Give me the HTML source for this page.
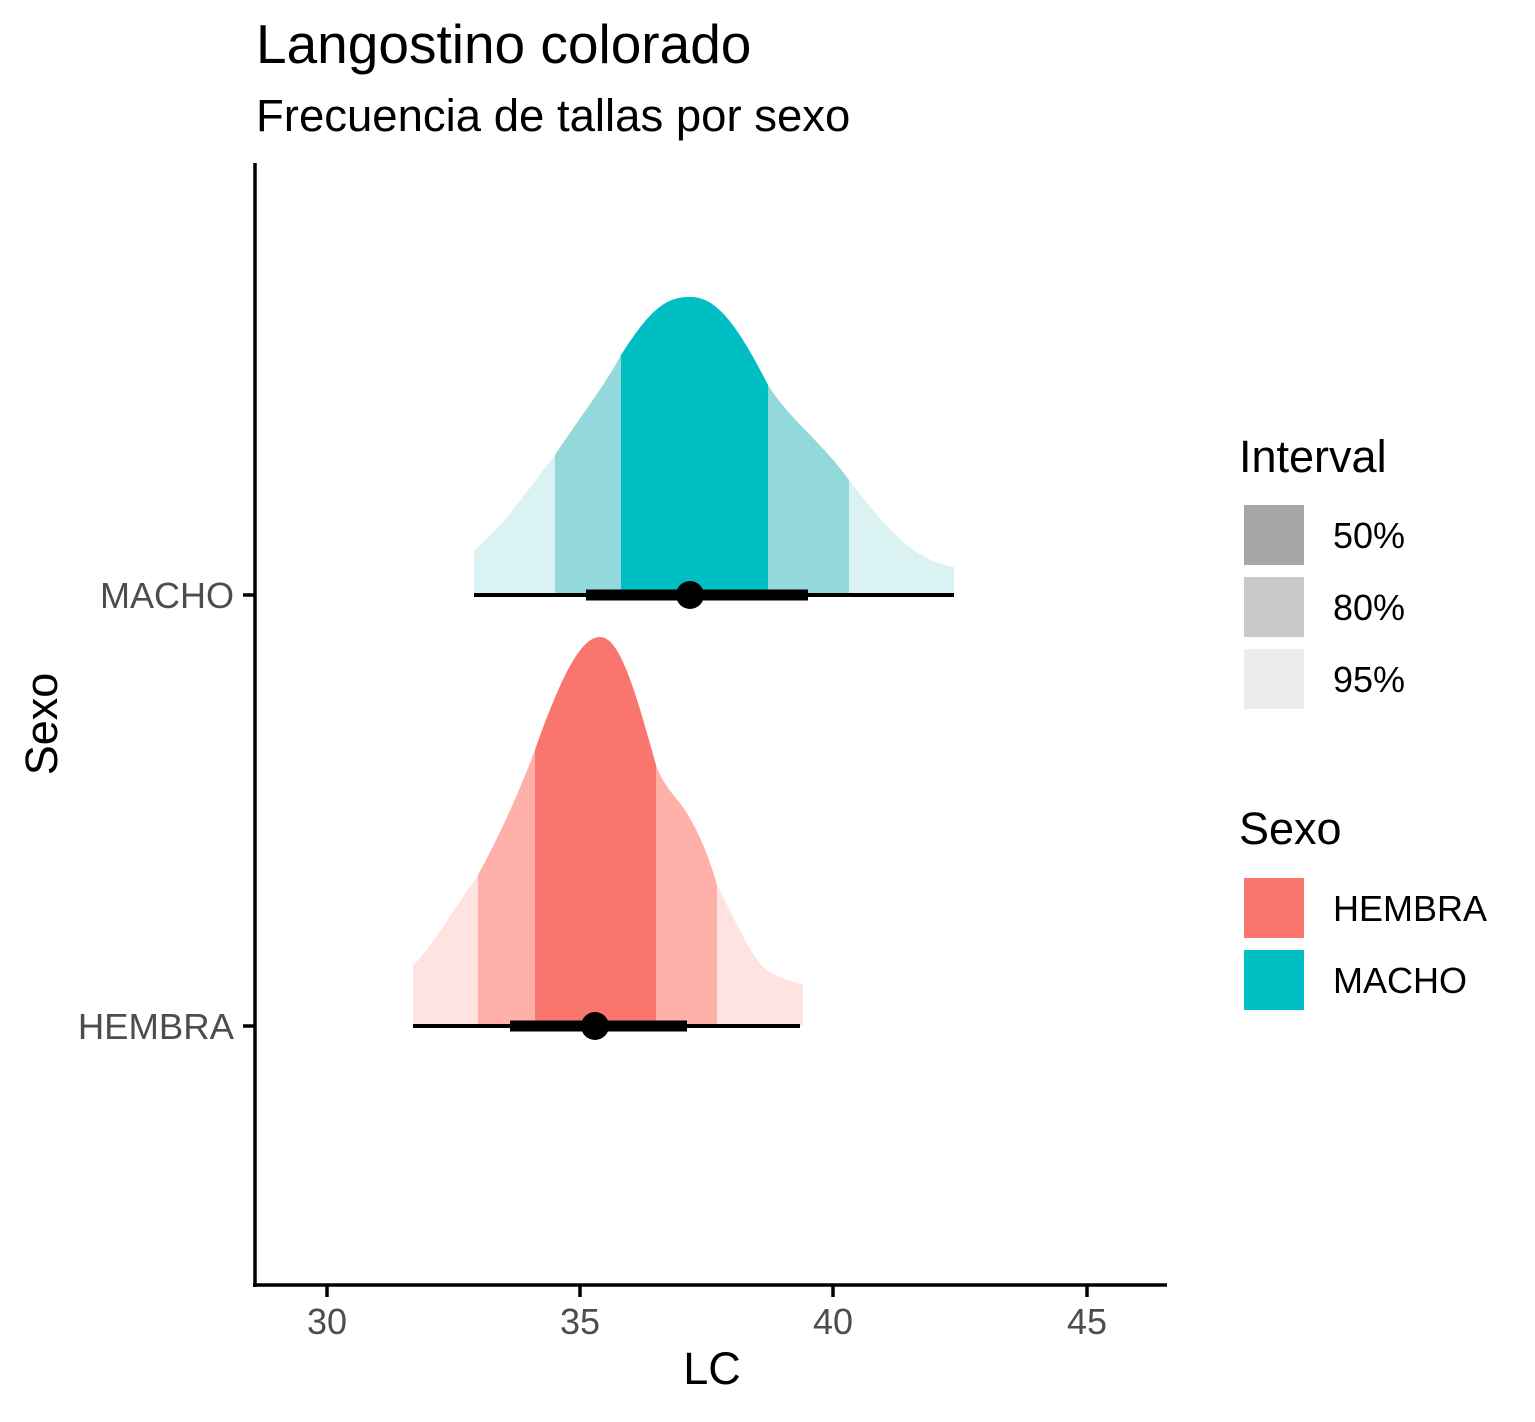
<!DOCTYPE html>
<html><head><style>body{margin:0;background:#fff}</style></head><body>
<svg width="1535" height="1417" xmlns="http://www.w3.org/2000/svg" font-family="Liberation Sans, sans-serif">
<defs>
<path id="m" d="M474,595 L474,550 C500,530 520,500 555,455 C585,410 605,385 621,355 C650,310 665,297 690,297 C715,297 735,320 768,385 C790,420 820,440 849,480 C880,520 910,560 954,567 L954,595 Z"/>
<path id="h" d="M413,1026 L413,965 C430,950 450,915 478,875 C500,835 520,790 535,750 C560,680 580,637 600,637 C620,637 635,690 656,765 C665,790 680,800 688,815 C700,835 710,860 717,885 C740,930 755,965 770,972 C785,980 795,982 803,985 L803,1026 Z"/>
<clipPath id="cm"><use href="#m"/></clipPath>
<clipPath id="ch"><use href="#h"/></clipPath>
</defs>
<text x="256" y="63" font-size="55">Langostino colorado</text>
<text x="256" y="131" font-size="45.5">Frecuencia de tallas por sexo</text>
<g clip-path="url(#cm)">
<rect x="470" y="280" width="490" height="320" fill="#daf2f2"/>
<rect x="555" y="280" width="294" height="320" fill="#93d9db"/>
<rect x="621" y="280" width="147" height="320" fill="#00bfc4"/>
</g>
<g clip-path="url(#ch)">
<rect x="410" y="620" width="400" height="410" fill="#ffe3e0"/>
<rect x="478" y="620" width="239" height="410" fill="#ffb0a8"/>
<rect x="535" y="620" width="121" height="410" fill="#f8766d"/>
</g>
<line x1="474" y1="595" x2="954" y2="595" stroke="#000" stroke-width="4"/>
<line x1="586" y1="595" x2="808" y2="595" stroke="#000" stroke-width="11"/>
<circle cx="690" cy="595" r="14"/>
<line x1="413" y1="1026" x2="800" y2="1026" stroke="#000" stroke-width="4"/>
<line x1="510" y1="1026" x2="687" y2="1026" stroke="#000" stroke-width="11"/>
<circle cx="595" cy="1026" r="14"/>
<line x1="255" y1="163" x2="255" y2="1287" stroke="#000" stroke-width="3.5"/>
<line x1="253" y1="1285" x2="1167" y2="1285" stroke="#000" stroke-width="3.5"/>
<g stroke="#000" stroke-width="3.5">
<line x1="243" y1="595" x2="255" y2="595"/><line x1="243" y1="1026" x2="255" y2="1026"/>
<line x1="327" y1="1285" x2="327" y2="1297"/><line x1="580" y1="1285" x2="580" y2="1297"/>
<line x1="833" y1="1285" x2="833" y2="1297"/><line x1="1087" y1="1285" x2="1087" y2="1297"/>
</g>
<g font-size="36" fill="#4d4d4d" text-anchor="end">
<text x="234" y="608">MACHO</text><text x="234" y="1039" font-size="36.5">HEMBRA</text>
</g>
<g font-size="36" fill="#4d4d4d" text-anchor="middle">
<text x="327" y="1334">30</text><text x="580" y="1334">35</text><text x="833" y="1334">40</text><text x="1087" y="1334">45</text>
</g>
<text x="712" y="1384" font-size="45" text-anchor="middle">LC</text>
<text transform="translate(57,724) rotate(-90)" font-size="45" text-anchor="middle">Sexo</text>
<text x="1239" y="472" font-size="45">Interval</text>
<rect x="1244" y="505" width="60" height="60" fill="#a6a6a6"/>
<rect x="1244" y="577" width="60" height="60" fill="#c9c9c9"/>
<rect x="1244" y="649" width="60" height="60" fill="#ececec"/>
<g font-size="36"><text x="1333" y="548">50%</text><text x="1333" y="620">80%</text><text x="1333" y="692">95%</text></g>
<text x="1239" y="844" font-size="45">Sexo</text>
<rect x="1244" y="878" width="60" height="60" fill="#f8766d"/>
<rect x="1244" y="950" width="60" height="60" fill="#00bfc4"/>
<g font-size="36"><text x="1333" y="921">HEMBRA</text><text x="1333" y="993">MACHO</text></g>
</svg>
</body></html>
